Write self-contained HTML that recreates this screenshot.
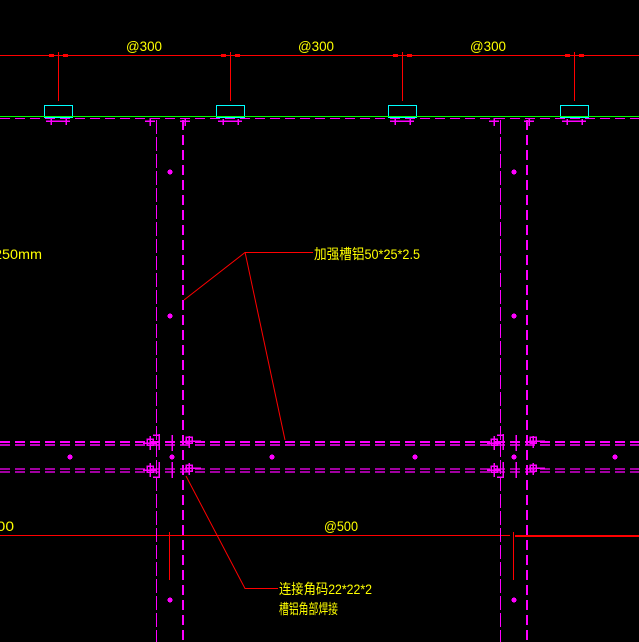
<html><body style="margin:0;background:#000">
<svg width="639" height="642" xmlns="http://www.w3.org/2000/svg" shape-rendering="crispEdges" style="display:block;background:#000;font-family:'Liberation Sans','Noto Sans CJK SC',sans-serif">
<g stroke="#f00" stroke-width="1">
<line x1="0" y1="55.5" x2="639" y2="55.5"/>
<line x1="58.5" y1="52" x2="58.5" y2="101"/><line x1="230.5" y1="52" x2="230.5" y2="101"/>
<line x1="402.5" y1="52" x2="402.5" y2="101"/><line x1="574.5" y1="52" x2="574.5" y2="101"/>
<line x1="0" y1="535.5" x2="510" y2="535.5"/><line x1="515" y1="536" x2="639" y2="536" stroke-width="2"/>
<line x1="169.5" y1="532" x2="169.5" y2="580"/><line x1="513.5" y1="532" x2="513.5" y2="580"/>
</g>
<g stroke="#f00" stroke-width="1" fill="none" shape-rendering="auto">
<polyline points="313,252.5 245,252.5 184,300"/><line x1="245" y1="252" x2="285" y2="440"/>
<polyline points="278,588.5 245,588.5 186,476"/>
</g>
<g fill="#f00"><rect x="49" y="54" width="5" height="3"/><rect x="63" y="54" width="5" height="3"/><rect x="221" y="54" width="5" height="3"/><rect x="235" y="54" width="5" height="3"/><rect x="393" y="54" width="5" height="3"/><rect x="407" y="54" width="5" height="3"/><rect x="565" y="54" width="5" height="3"/><rect x="579" y="54" width="5" height="3"/></g>
<g fill="none" stroke="#0ff"><rect x="44.5" y="105.5" width="28" height="12"/><rect x="216.5" y="105.5" width="28" height="12"/><rect x="388.5" y="105.5" width="28" height="12"/><rect x="560.5" y="105.5" width="28" height="12"/></g>
<line x1="0" y1="116.5" x2="639" y2="116.5" stroke="#0f0" stroke-width="1"/>
<line x1="0" y1="118.5" x2="639" y2="118.5" stroke="#f0f" stroke-width="1" stroke-dasharray="10,5"/>
<g stroke="#f0f" fill="none">
<line x1="156.5" y1="120" x2="156.5" y2="642" stroke-dasharray="14,3"/>
<line x1="183" y1="120" x2="183" y2="642" stroke-width="2" stroke-dasharray="10,5"/>
<line x1="500.5" y1="120" x2="500.5" y2="642" stroke-dasharray="14,3"/>
<line x1="527" y1="120" x2="527" y2="642" stroke-width="2" stroke-dasharray="10,5"/>
<line x1="0" y1="442" x2="639" y2="442" stroke-width="2" stroke-dasharray="10,5"/>
<line x1="0" y1="445" x2="639" y2="445" stroke-width="1.5" stroke-dasharray="10,5" shape-rendering="auto"/>
<line x1="0" y1="469" x2="639" y2="469" stroke-width="1.3" stroke-dasharray="10,5" shape-rendering="auto"/>
<line x1="0" y1="472" x2="639" y2="472" stroke-width="1.3" stroke-dasharray="10,5" shape-rendering="auto"/>
</g>
<g fill="#f0f">
<circle cx="170" cy="172" r="2.5"/><circle cx="170" cy="316" r="2.5"/><circle cx="70" cy="457" r="2.5"/><circle cx="172" cy="457" r="2.5"/><circle cx="272" cy="457" r="2.5"/><circle cx="415" cy="457" r="2.5"/><circle cx="514" cy="457" r="2.5"/><circle cx="615" cy="457" r="2.5"/><circle cx="170" cy="600" r="2.5"/><circle cx="514" cy="172" r="2.5"/><circle cx="514" cy="316" r="2.5"/><circle cx="514" cy="600" r="2.5"/>
</g>
<g stroke="#f0f" fill="none" stroke-width="1.5">
<path d="M143,443h14M150,436v14M147,439h6v6h-6zM159,434v16M153,435h7M172,435v16M185,441h16M189,436v12M186,437h6v6h-6z"/>
<path d="M143,470h14M150,463v14M147,466h6v6h-6zM159,462v16M153,477h7M172,462v16M185,468h16M189,463v12M186,465h6v6h-6z"/>
<path d="M487,443h14M494,436v14M491,439h6v6h-6zM503,434v16M497,435h7M516,435v16M529,441h16M533,436v12M530,437h6v6h-6z"/>
<path d="M487,470h14M494,463v14M491,466h6v6h-6zM503,462v16M497,477h7M516,462v16M529,468h16M533,463v12M530,465h6v6h-6z"/>
<path d="M145,121h10M150,118v8M180,121h10M185,118v8M489,121h10M494,118v8M524,121h10M529,118v8"/>
<path d="M46,121h24M51,119v6M66,119v6M218,121h24M223,119v6M238,119v6M390,121h24M395,119v6M410,119v6M562,121h24M567,119v6M582,119v6"/>
</g>
<g fill="#ff0" font-size="14">
<text x="126" y="51" textLength="36" lengthAdjust="spacingAndGlyphs">@300</text><text x="298" y="51" textLength="36" lengthAdjust="spacingAndGlyphs">@300</text><text x="470" y="51" textLength="36" lengthAdjust="spacingAndGlyphs">@300</text>
<text x="-6" y="259" textLength="48" lengthAdjust="spacingAndGlyphs">250mm</text>
<text x="314" y="259" textLength="106" lengthAdjust="spacingAndGlyphs">加强槽铝50*25*2.5</text>
<text x="324" y="531" textLength="34" lengthAdjust="spacingAndGlyphs">@500</text><text x="-12" y="531" textLength="26" lengthAdjust="spacingAndGlyphs">500</text>
<text x="279" y="594" font-size="14" textLength="93" lengthAdjust="spacingAndGlyphs">连接角码22*22*2</text>
<text x="279" y="614" font-size="14" textLength="59" lengthAdjust="spacingAndGlyphs">槽铝角部焊接</text>
</g>
</svg>
</body></html>
